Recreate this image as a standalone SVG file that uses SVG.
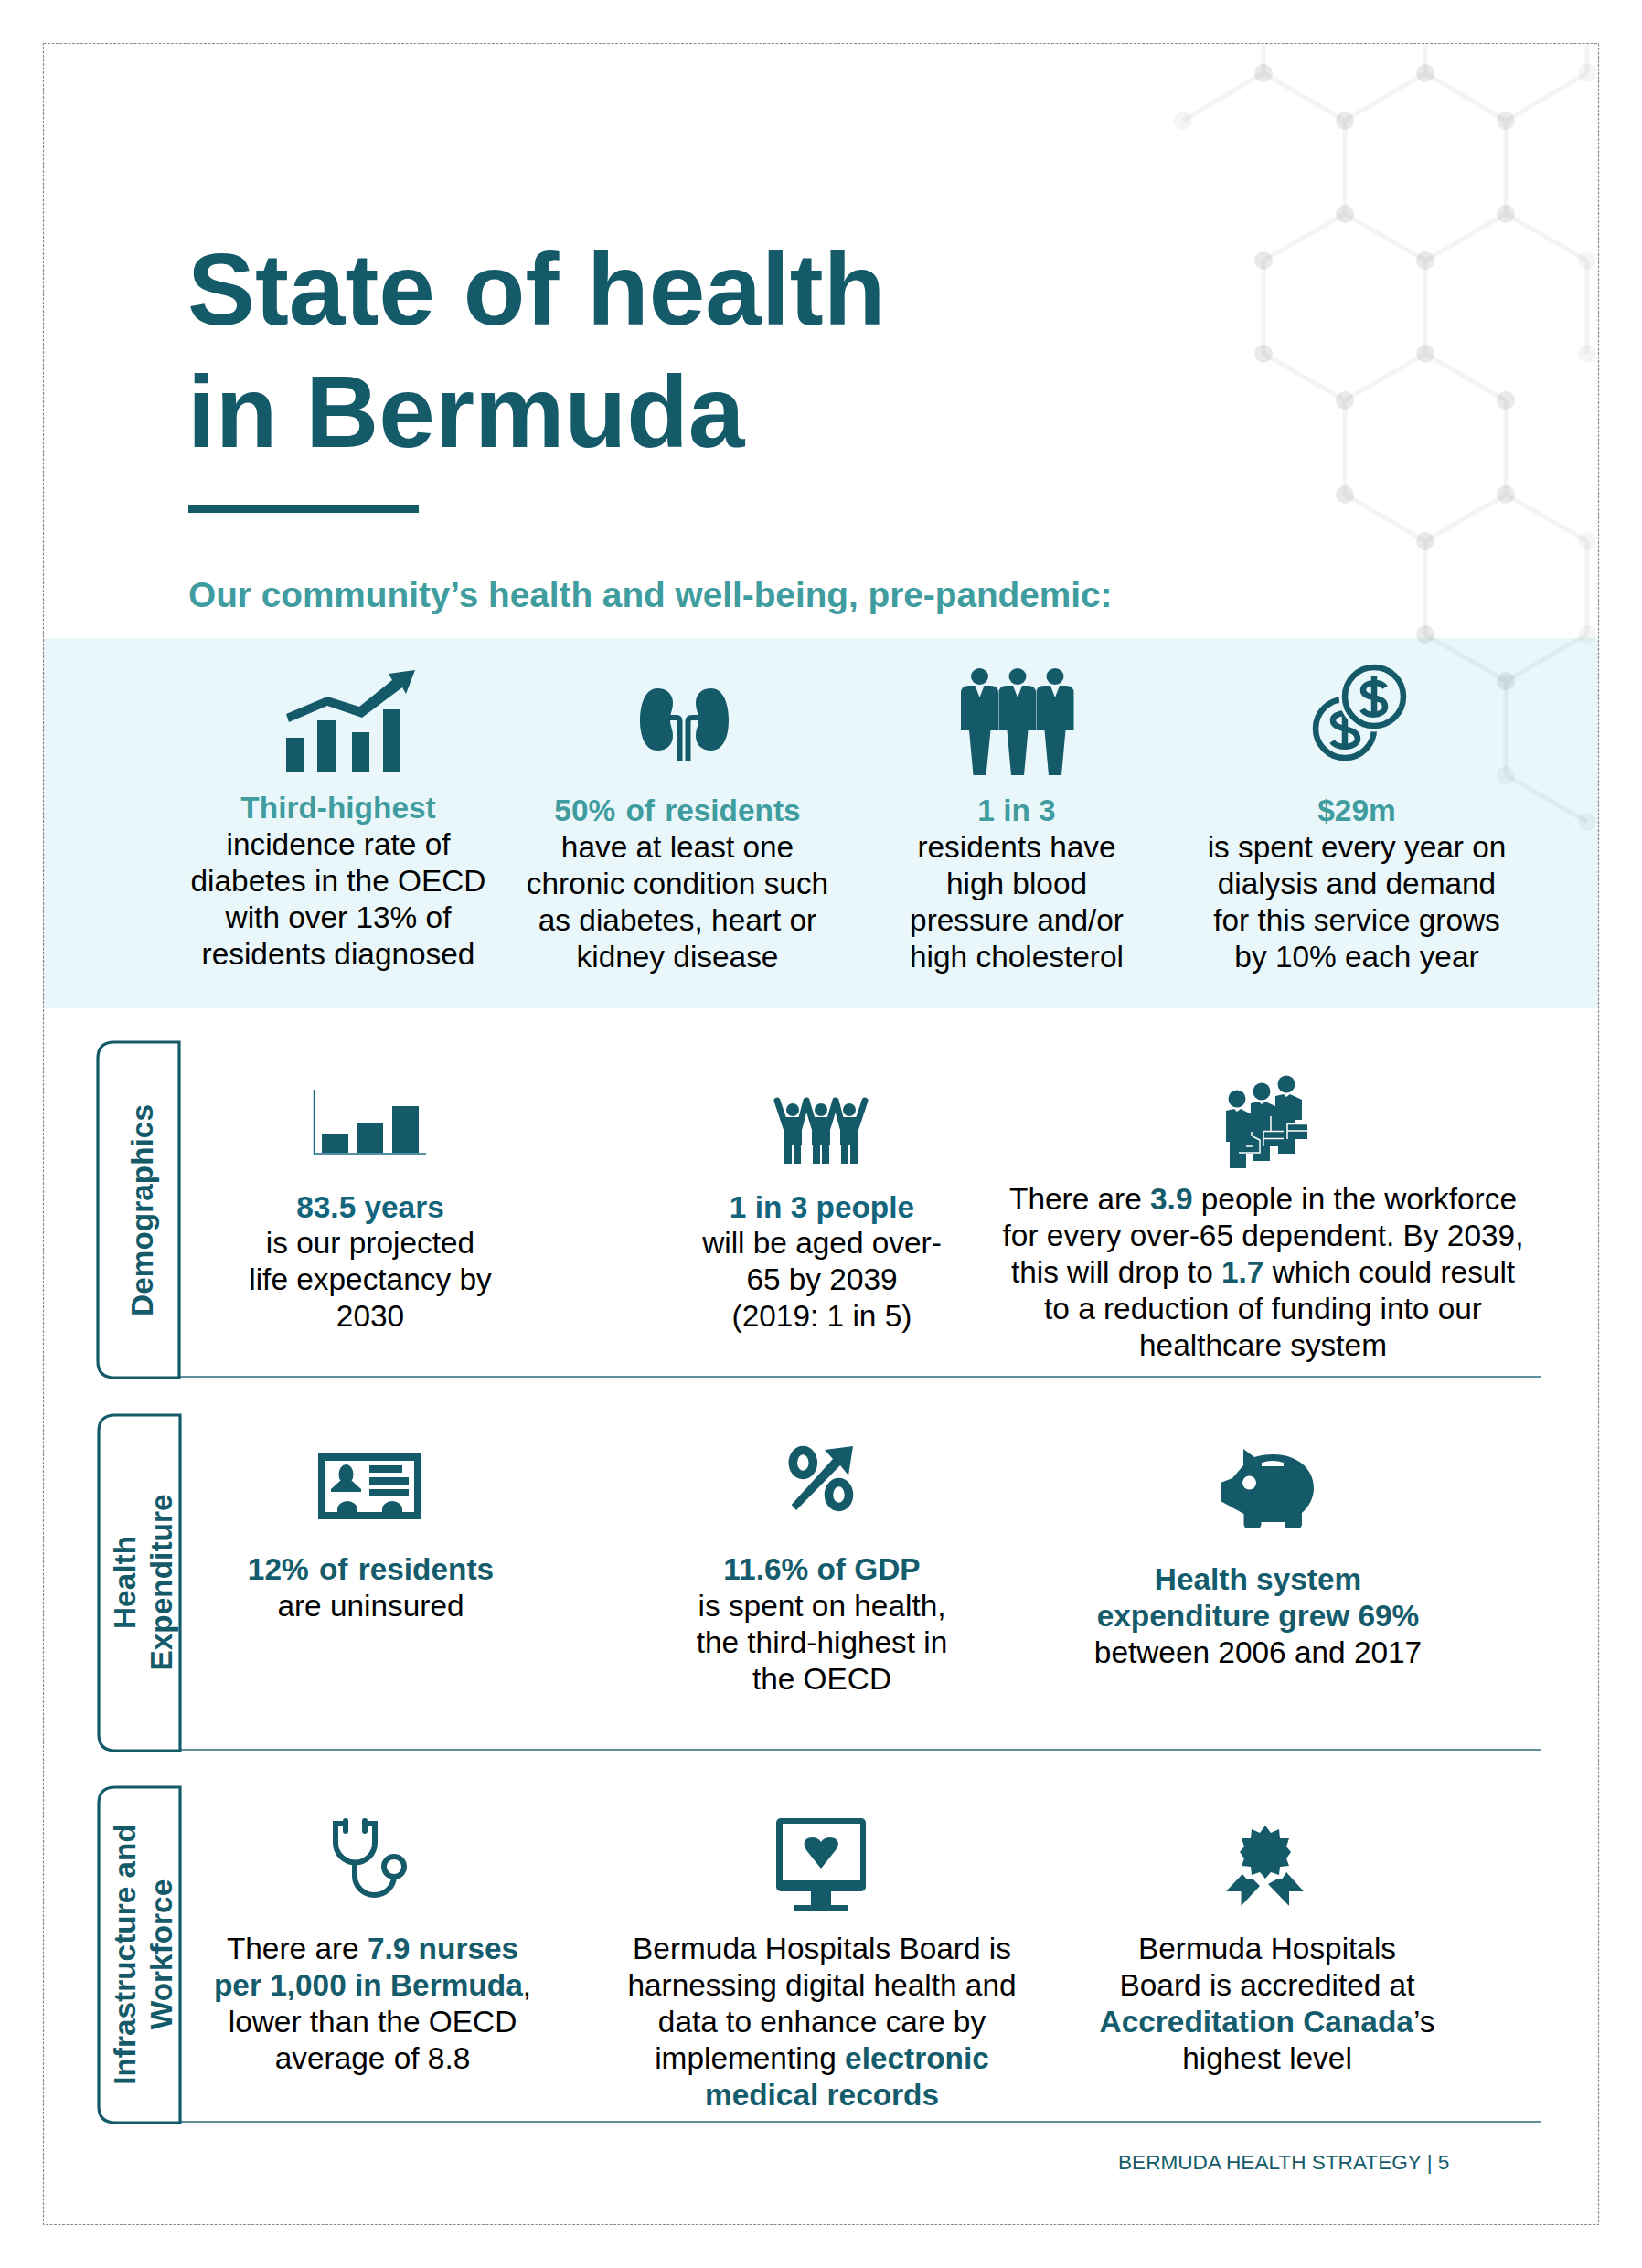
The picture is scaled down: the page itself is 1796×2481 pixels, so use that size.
<svg xmlns="http://www.w3.org/2000/svg" width="1796" height="2481" viewBox="0 0 1796 2481">
<style>
text{font-family:"Liberation Sans",Arial,sans-serif;font-size:33.400px;fill:#000}
.c{text-anchor:middle}
.h{font-weight:700;fill:#3f9c9f}
.d{font-weight:700;fill:#145c6c}
.b{font-weight:700;fill:#12657d}
.title{font-weight:700;font-size:110.800px;fill:#155a69}
.side{font-weight:700;fill:#155a69;text-anchor:middle}
.i{fill:#155a69}
.box{fill:none;stroke:#155a69;stroke-width:3.200}
.rule{stroke:#2a6e7c;stroke-width:1.600}
.hl{stroke:#000;stroke-opacity:.045;stroke-width:5;fill:none}
.hn{fill:#000;fill-opacity:.085}
.hf{fill:#000;fill-opacity:.04}
</style>
<rect width="1796" height="2481" fill="#fff"/>
<g id="band"><rect x="47" y="698" width="1701" height="405" fill="#e9f7fb"/></g>
<g id="hexagons">
<g id="connectors">
<path class="hl" d="M1294 132L1382 80L1471 132L1559 80L1647 132L1736 80M1382 47V80M1559 47V80M1736 47V80M1471 132V234M1647 132V234M1382 285L1471 234L1559 285L1647 234L1736 285M1382 285V387M1559 285V387M1736 285V387M1382 387L1471 438L1559 387L1647 438M1471 438V541M1647 438V541M1471 541L1559 592L1647 541L1736 592M1559 592V694M1736 592V694M1559 694L1647 745L1736 694M1647 745V848M1647 848L1736 899"/>
<path class="rule" d="M196 1506H1685M197 1914H1685M197 2321H1685"/>
</g>
<g id="hex-nodes">
<circle class="hf" cx="1294" cy="132" r="10"/><circle class="hn" cx="1382" cy="80" r="10"/><circle class="hn" cx="1471" cy="132" r="10"/><circle class="hn" cx="1559" cy="80" r="10"/><circle class="hn" cx="1647" cy="132" r="10"/><circle class="hf" cx="1736" cy="80" r="10"/>
<circle class="hn" cx="1471" cy="234" r="10"/><circle class="hn" cx="1647" cy="234" r="10"/><circle class="hn" cx="1382" cy="285" r="10"/><circle class="hn" cx="1559" cy="285" r="10"/><circle class="hf" cx="1736" cy="285" r="10"/>
<circle class="hn" cx="1382" cy="387" r="10"/><circle class="hn" cx="1559" cy="387" r="10"/><circle class="hf" cx="1736" cy="387" r="10"/><circle class="hn" cx="1471" cy="438" r="10"/><circle class="hn" cx="1647" cy="438" r="10"/>
<circle class="hn" cx="1471" cy="541" r="10"/><circle class="hn" cx="1647" cy="541" r="10"/><circle class="hn" cx="1559" cy="592" r="10"/><circle class="hf" cx="1736" cy="592" r="10"/>
<circle class="hn" cx="1559" cy="694" r="10"/><circle class="hf" cx="1736" cy="694" r="10"/><circle class="hn" cx="1647" cy="745" r="10"/><circle class="hf" cx="1647" cy="848" r="10"/><circle class="hf" cx="1736" cy="899" r="10"/>
</g>
</g>
<rect id="frame" x="47.500" y="47.500" width="1701" height="2386" fill="none" stroke="#8a8a8a" stroke-width="1.200" stroke-dasharray="3 1.500"/>

<g id="header">
<text class="title" x="205" y="355">State of health</text>
<text class="title" x="205" y="489">in Bermuda</text>
<rect x="206" y="552" width="252" height="9" fill="#155a69"/>
<text x="206" y="664" style="font-size:38.750px;font-weight:700;fill:#3f9c9f">Our community’s health and well-being, pre-pandemic:</text>
</g>

<g id="stat-diabetes">
<g class="i"><rect x="313" y="807" width="20" height="38"/><rect x="347" y="788" width="20" height="57"/><rect x="385" y="801" width="19" height="44"/><rect x="419" y="776" width="19" height="69"/><path d="M313 781L358 762L393 773L429 744L425 737L454 733L444 759L440 752L396 785L358 772L316 790Z"/></g>
<g class="c"><text class="h" x="370" y="895">Third-highest</text><text x="370" y="935">incidence rate of</text><text x="370" y="975">diabetes in the OECD</text><text x="370" y="1015">with over 13% of</text><text x="370" y="1055">residents diagnosed</text></g>
</g>
<g id="stat-chronic">
<g class="i"><path d="M719 753C706 753 700 770 700 788C700 806 706 821 719 821C731 821 736 813 736 805C736 797 733 795 733 787C733 779 736 777 736 769C736 760 730 753 719 753Z"/><path d="M778 753C791 753 797 770 797 788C797 806 791 821 778 821C766 821 761 813 761 805C761 797 764 795 764 787C764 779 761 777 761 769C761 760 767 753 778 753Z"/></g>
<path d="M732 785H740Q743.500 785 743.500 789V832M765 785H757Q752.500 785 752.500 789V832" fill="none" stroke="#155a69" stroke-width="6"/>
<g class="c"><text class="h" x="741" y="898" word-spacing="2">50% of residents</text><text x="741" y="938">have at least one</text><text x="741" y="978">chronic condition such</text><text x="741" y="1018">as diabetes, heart or</text><text x="741" y="1058">kidney disease</text></g>
</g>
<g id="stat-blood">
<g class="i">
<ellipse cx="1071.500" cy="740" rx="9.500" ry="9"/><ellipse cx="1113" cy="740" rx="9.500" ry="9"/><ellipse cx="1154" cy="740" rx="9.500" ry="9"/>
<path d="M1051 799V758Q1051 750 1060 750H1083Q1092 750 1092 758V799H1083.500L1078.500 848H1064.500L1060 799Z"/>
<path d="M1092.500 799V758Q1092.500 750 1101 750H1124Q1133 750 1133 758V799H1124.500L1120 848H1106L1101.500 799Z"/>
<path d="M1133.500 799V758Q1133.500 750 1142 750H1166Q1174.500 750 1174.500 758V799H1165.500L1161 848H1147L1142.500 799Z"/>
</g>
<path d="M1066.500 750L1071.500 763L1076.500 750ZM1108 750L1113 763L1118 750ZM1149 750L1154 763L1159 750Z" fill="#e9f7fb"/>
<g class="c"><text class="h" x="1112" y="898">1 in 3</text><text x="1112" y="938">residents have</text><text x="1112" y="978">high blood</text><text x="1112" y="1018">pressure and/or</text><text x="1112" y="1058">high cholesterol</text></g>
</g>
<g id="stat-dialysis">
<circle cx="1471" cy="797" r="32" fill="none" stroke="#155a69" stroke-width="6.500"/>
<path d="M1485 785C1480 777 1458 779 1458 788C1458 800 1485 794 1485 808C1485 818 1463 820 1457 811M1471 775V820" fill="none" stroke="#155a69" stroke-width="6.500"/>
<circle cx="1503" cy="762" r="38.500" fill="#e9f7fb"/>
<circle cx="1503" cy="762" r="32" fill="none" stroke="#155a69" stroke-width="6.500"/>
<path d="M1515 752C1510 744 1491 746 1491 755C1491 766 1515 760 1515 773C1515 783 1495 785 1490 776M1503 740V784" fill="none" stroke="#155a69" stroke-width="6.500"/>
<g class="c"><text class="h" x="1484" y="898">$29m</text><text x="1484" y="938">is spent every year on</text><text x="1484" y="978">dialysis and demand</text><text x="1484" y="1018">for this service grows</text><text x="1484" y="1058">by 10% each year</text></g>
</g>

<g id="demographics">
<path class="box" d="M196 1140H125Q107 1140 107 1158V1489Q107 1507 125 1507H196Z"/>
<text class="side" transform="translate(167 1324) rotate(-90)">Demographics</text>
</g>
<g id="life-expectancy">
<path d="M343.500 1192V1262H466" fill="none" stroke="#1c6b85" stroke-width="1.500"/>
<g class="i"><rect x="352" y="1241" width="29" height="20"/><rect x="390" y="1229" width="29" height="32"/><rect x="429" y="1210" width="29" height="51"/></g>
<g class="c"><text class="b" x="405" y="1332">83.5 years</text><text x="405" y="1371">is our projected</text><text x="405" y="1411">life expectancy by</text><text x="405" y="1451">2030</text></g>
</g>
<g id="aged">
<g class="i"><circle cx="867" cy="1214" r="7"/><circle cx="898" cy="1214" r="7"/><circle cx="929" cy="1214" r="7"/>
<path d="M857 1222H877V1253H876V1273H868V1253H866V1273H858V1253H857Z"/><path d="M888 1222H908V1253H907V1273H899V1253H897V1273H889V1253H888Z"/><path d="M919 1222H939V1253H938V1273H930V1253H928V1273H920V1253H919Z"/></g>
<path d="M850 1204L860 1234M882 1204L874 1234M882 1204L891 1234M914 1204L905 1234M914 1204L922 1234M946 1204L936 1234" fill="none" stroke="#155a69" stroke-width="7" stroke-linecap="round"/>
<g class="c"><text class="b" x="899" y="1332">1 in 3 people</text><text x="899" y="1371">will be aged over-</text><text x="899" y="1411">65 by 2039</text><text x="899" y="1451">(2019: 1 in 5)</text></g>
</g>
<g id="workforce">
<g class="i"><circle cx="1407" cy="1186" r="9.500"/><path d="M1395 1199L1404 1197L1407 1200L1411 1197L1424 1203V1225H1416V1262H1398V1240H1395Z"/>
<circle cx="1380" cy="1194" r="9.500"/><path d="M1368 1207L1377 1205L1380 1208L1384 1205L1397 1211V1240H1389V1270H1371V1245H1368Z"/>
<circle cx="1353" cy="1202" r="9.500"/><path d="M1341 1215L1350 1213L1353 1216L1357 1213L1371 1220V1249H1363V1278H1345V1249H1341Z"/>
<rect x="1408" y="1229" width="22" height="17"/><rect x="1382" y="1237" width="22" height="17"/><path d="M1355 1245H1377V1262H1355Z"/></g>
<path d="M1408 1246V1229.500H1430M1408 1237H1430M1382 1254V1237.500H1404M1382 1245.500H1404M1370 1243L1378 1247V1261H1355M1363 1254H1370M1390 1221V1237M1369 1238V1243" fill="none" stroke="#fff" stroke-width="1.500"/>
<g class="c"><text x="1381.500" y="1323">There are <tspan class="d">3.9</tspan> people in the workforce</text><text x="1381.500" y="1363">for every over-65 dependent. By 2039,</text><text x="1381.500" y="1403">this will drop to <tspan class="d">1.7</tspan> which could result</text><text x="1381.500" y="1443">to a reduction of funding into our</text><text x="1381.500" y="1483">healthcare system</text></g>
</g>

<g id="health-expenditure">
<path class="box" d="M197 1548H126Q108 1548 108 1566V1897Q108 1915 126 1915H197Z"/>
<text class="side" transform="translate(148 1731) rotate(-90)">Health</text>
<text class="side" transform="translate(188 1731) rotate(-90)">Expenditure</text>
</g>
<g id="uninsured">
<rect x="352" y="1594" width="105" height="64" fill="none" stroke="#155a69" stroke-width="8"/>
<g class="i"><ellipse cx="378.500" cy="1613" rx="8" ry="11"/><path d="M372 1620L362 1629V1632H395V1629L385 1620Z"/><rect x="404" y="1603" width="36" height="8"/><rect x="404" y="1616" width="43" height="8"/><rect x="404" y="1629" width="43" height="8"/><path d="M369 1655V1651A11 9 0 0 1 391 1651V1655ZM418 1655V1651A11 9 0 0 1 440 1651V1655Z"/></g>
<g class="c"><text class="d" x="405.500" y="1728" word-spacing="2">12% of residents</text><text x="405.500" y="1768">are uninsured</text></g>
</g>
<g id="gdp">
<g fill="none" stroke="#155a69" stroke-width="9.500"><ellipse cx="878.300" cy="1600" rx="11" ry="13.500"/><ellipse cx="917.500" cy="1635" rx="11" ry="13.500"/></g>
<path class="i" d="M865.700 1646L871 1652L919 1603L928 1614L933 1582L902 1586L911 1596Z"/>
<g class="c"><text class="d" x="899" y="1728">11.6% of GDP</text><text x="899" y="1768">is spent on health,</text><text x="899" y="1808">the third-highest in</text><text x="899" y="1848">the OECD</text></g>
</g>
<g id="growth">
<path class="i" d="M1360 1585L1372 1594C1378 1592 1385 1591 1393 1591C1418 1591 1437 1606 1437 1628C1437 1638 1432 1648 1424 1655V1667Q1424 1672 1419 1672H1410Q1405 1672 1405 1667V1665H1379.500V1667Q1379.500 1672 1374.500 1672H1365.500Q1360.500 1672 1360.500 1667V1656L1335 1642V1622L1348 1617L1360 1603Z"/>
<circle cx="1366.500" cy="1622" r="7.500" fill="#fff"/><path d="M1380 1604V1600Q1392 1596 1404 1600V1604Z" fill="#fff"/>
<g class="c"><text class="d" x="1376" y="1739">Health system</text><text class="d" x="1376" y="1779">expenditure grew 69%</text><text x="1376" y="1819">between 2006 and 2017</text></g>
</g>

<g id="infrastructure">
<path class="box" d="M197 1955H126Q108 1955 108 1973V2304Q108 2322 126 2322H197Z"/>
<text class="side" transform="translate(148 2138) rotate(-90)">Infrastructure and</text>
<text class="side" transform="translate(188 2138) rotate(-90)">Workforce</text>
</g>
<g id="nurses">
<path d="M378 1995H367V2016A21.500 21.500 0 0 0 410 2016V1995H399M388 2037V2052A21.500 21 0 0 0 431 2052" fill="none" stroke="#155a69" stroke-width="6"/>
<path d="M378 1992V2003M399 1992V2003" fill="none" stroke="#155a69" stroke-width="6" stroke-linecap="round"/>
<circle cx="431" cy="2042" r="11" fill="none" stroke="#155a69" stroke-width="6"/>
<g class="c"><text x="407.500" y="2143">There are <tspan class="d">7.9 nurses</tspan></text><text x="407.500" y="2183"><tspan class="d">per 1,000 in Bermuda</tspan>,</text><text x="407.500" y="2223">lower than the OECD</text><text x="407.500" y="2263">average of 8.8</text></g>
</g>
<g id="digital">
<rect x="849" y="1989" width="98" height="80" rx="5" class="i"/><rect x="856" y="1995" width="85" height="62" fill="#fff"/>
<rect x="887" y="2069" width="22" height="15" class="i"/><rect x="868" y="2084" width="60" height="6" class="i"/>
<path class="i" d="M898 2044L882 2024Q879.500 2020 879.500 2016Q881 2010 888 2010Q895 2010 898 2015Q901 2010 908 2010Q915 2010 917 2016Q917 2020 914 2024Z"/>
<g class="c"><text x="899" y="2143">Bermuda Hospitals Board is</text><text x="899" y="2183">harnessing digital health and</text><text x="899" y="2223">data to enhance care by</text><text x="899" y="2263">implementing <tspan class="d">electronic</tspan></text><text class="d" x="899" y="2303">medical records</text></g>
</g>
<g id="accredited">
<path class="i" d="M1384 1997L1390 2005L1399 2001L1400 2011L1410 2011L1407 2020L1412 2026L1407 2033L1410 2041L1400 2042L1399 2051L1390 2048L1384 2055L1378 2048L1369 2051L1368 2042L1358 2041L1361 2033L1356 2026L1361 2020L1358 2011L1368 2011L1369 2001L1378 2005Z"/>
<path class="i" d="M1359 2050L1364 2056L1371 2056L1378 2063L1357.500 2085V2069H1341ZM1407 2048L1426 2069H1410V2085L1387 2061L1396 2056L1402 2056Z"/>
<g class="c"><text x="1386" y="2143">Bermuda Hospitals</text><text x="1386" y="2183">Board is accredited at</text><text x="1386" y="2223"><tspan class="d">Accreditation Canada</tspan>’s</text><text x="1386" y="2263">highest level</text></g>
</g>
<g id="footer"><text x="1223" y="2373" style="font-size:22.600px;fill:#155a69">BERMUDA HEALTH STRATEGY | 5</text></g>
</svg>
